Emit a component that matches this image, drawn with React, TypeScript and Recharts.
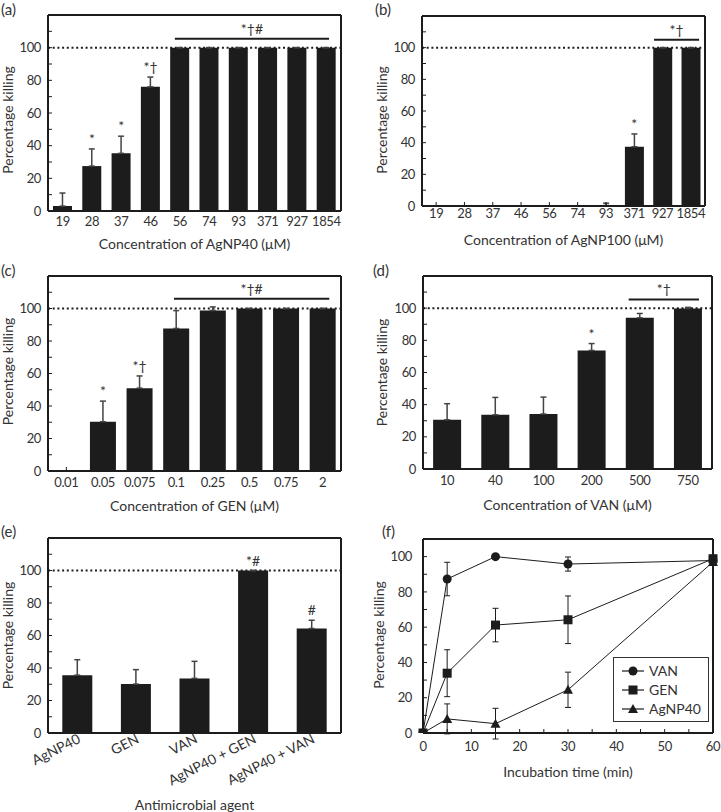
import React from 'react';
import { BarChart, Bar, LineChart, Line, XAxis, YAxis, ErrorBar, ReferenceLine, ReferenceDot, Legend } from 'recharts';

const FONT = "'Lato', sans-serif";
const INK = '#1c1c1c';
const TEXT = '#333';
const FS = 14;
const TICK = { fill: TEXT, fontSize: 13, letterSpacing: '-0.4px' };

// (a) AgNP40
const agnp40Conc = ['19', '28', '37', '46', '56', '74', '93', '371', '927', '1854'];
const agnp40Kill = [3, 27.5, 35.3, 76, 100, 100, 100, 100, 100, 100];
const agnp40Err = [8, 10.5, 10.5, 6, 0, 0, 0, 0, 0, 0];
const agnp40Marks = ['', '*', '*', '*†', '', '', '', '', '', ''];

// (b) AgNP100
const agnp100Conc = ['19', '28', '37', '46', '56', '74', '93', '371', '927', '1854'];
const agnp100Kill = [0, 0, 0, 0, 0, 0, 0.3, 37.4, 100, 100];
const agnp100Err = [0, 0, 0, 0, 0, 0, 1.5, 8.1, 0, 0];
const agnp100Marks = ['', '', '', '', '', '', '', '*', '', ''];

// (c) GEN
const genConc = ['0.01', '0.05', '0.075', '0.1', '0.25', '0.5', '0.75', '2'];
const genKill = [0, 30.3, 51, 87.7, 98.8, 100, 100, 100];
const genErr = [8, 12.7, 7.5, 11, 2.2, 0, 0, 0];
const genMarks = ['', '*', '*†', '', '', '', '', ''];

// (d) VAN
const vanConc = ['10', '40', '100', '200', '500', '750'];
const vanKill = [30.6, 33.7, 34.2, 73.7, 94, 99.8];
const vanErr = [10, 10.8, 10.5, 4.3, 2.7, 0.7];
const vanMarks = ['', '', '', '*', '', ''];

// (e) combinations
const agents = ['AgNP40', 'GEN', 'VAN', 'AgNP40 + GEN', 'AgNP40 + VAN'];
const agentKill = [35.6, 30.1, 33.6, 100, 64.3];
const agentErr = [9.5, 8.9, 10.5, 0, 5.1];
const agentMarks = ['', '', '', '*#', '#'];

// (f) time course
const timeMin = [0, 5, 15, 30, 60];
const vanTime = [0, 87.3, 100, 95.8, 97.8];
const vanTimeErr = [0, 9.5, 0, 4, 2];
const genTime = [0, 33.9, 61.2, 64.2, 98.8];
const genTimeErr = [0, 13.3, 9.5, 13.5, 2];
const agTime = [0, 8, 5.3, 24.5, 97];
const agTimeErr = [0, 8.5, 8.7, 10, 2];
const timeSeries = ['VAN', 'GEN', 'AgNP40'];

const yTicks120 = [0, 10, 20, 30, 40, 50, 60, 70, 80, 90, 100, 110, 120];
const yTicks110 = [0, 10, 20, 30, 40, 50, 60, 70, 80, 90, 100, 110];
const xTicksTime = [0, 5, 10, 15, 20, 25, 30, 35, 40, 45, 50, 55, 60];
const fmtY = (v: number) => (v % 20 === 0 && v <= 100 ? String(v) : '');
const fmtT = (v: number) => (v % 10 === 0 ? String(v) : '');

const frameLine = { stroke: INK, strokeWidth: 2 };

const YTitle = ({ tx, ty }: { tx: number; ty: number }) => (
  <text x={tx} y={ty} transform={`rotate(-90, ${tx}, ${ty})`} textAnchor="middle" dominantBaseline="central" fill={TEXT} fontSize={FS}>
    Percentage killing
  </text>
);

const makeAngledTick = (cats: string[]) => (props: any) => {
  const { x, y, payload } = props;
  return (
    <text x={x} y={y} dy={9} transform={`rotate(-27, ${x}, ${y})`} textAnchor="end" fill={TEXT} fontSize={FS}>
      {cats[payload.value]}
    </text>
  );
};

function BarPanel(p: any) {
  const { box, plot } = p;
  const data = p.cats.map((c: string, i: number) => ({ i, kill: p.kill[i], err: [0, p.err[i]], mark: p.marks[i] }));
  const n = p.cats.length;
  const idx = p.cats.map((_: string, i: number) => i);
  const margin = { top: plot.t - box.y - 1, right: box.x + box.w - plot.r - 1, bottom: 0, left: 0 };
  const titleY = (plot.t + plot.b) / 2 - box.y + p.yTitleDy;
  const AngledTick = makeAngledTick(p.cats);
  return (
    <div style={{ position: 'absolute', left: box.x, top: box.y }}>
      <BarChart width={box.w} height={box.h} data={data} margin={margin} barCategoryGap={p.gap}>
        <XAxis
          dataKey="i"
          type="number"
          domain={[-0.5, n - 0.5]}
          ticks={idx}
          allowDataOverflow
          height={box.y + box.h - plot.b}
          interval={0}
          tickSize={-4}
          tickMargin={p.xTickMargin}
          tickFormatter={(v: number) => p.cats[v]}
          axisLine={frameLine}
          tickLine={{ stroke: INK }}
          tick={p.angled ? AngledTick : TICK}
          label={{ value: p.title, position: 'insideBottom', offset: p.titleOffset, fill: TEXT, fontSize: FS }}
        />
        <XAxis xAxisId="t" orientation="top" type="number" domain={[0, 1]} height={1} tick={false} tickLine={false} axisLine={frameLine} allowDataOverflow />
        <YAxis
          width={plot.l - box.x}
          domain={[0, 120]}
          ticks={yTicks120}
          interval={0}
          tickSize={-4}
          tickMargin={11}
          tickFormatter={fmtY}
          axisLine={frameLine}
          tickLine={{ stroke: INK }}
          tick={TICK}
          label={<YTitle tx={p.yTitleX} ty={titleY} />}
          allowDataOverflow
        />
        <YAxis yAxisId="r" orientation="right" width={1} domain={[0, 120]} tick={false} tickLine={false} axisLine={frameLine} />
        <ReferenceLine y={100} stroke={INK} strokeWidth={2} strokeDasharray="2 2.7" />
        <Bar dataKey="kill" fill={INK} isAnimationActive={false}>
          <ErrorBar dataKey="err" width={3} stroke="#444" strokeWidth={1.5} />
        </Bar>
        {data
          .filter((d: any) => d.mark)
          .map((d: any) => (
            <ReferenceDot
              key={d.i}
              x={d.i}
              y={d.kill + d.err[1]}
              r={0}
              fill="none"
              stroke="none"
              label={{ value: d.mark, position: 'top', offset: 5, fill: TEXT, fontSize: FS }}
            />
          ))}
        {p.sig && (
          <ReferenceLine
            segment={[{ x: p.sig.x1, y: p.sig.y }, { x: p.sig.x2, y: p.sig.y }]}
            stroke={INK}
            strokeWidth={2}
            ifOverflow="visible"
            label={{ value: p.sig.text, position: 'top', offset: 5, fill: TEXT, fontSize: FS }}
          />
        )}
      </BarChart>
    </div>
  );
}

function Marker({ shape, cx, cy }: { shape: string; cx: number; cy: number }) {
  if (shape === 'VAN') return <circle cx={cx} cy={cy} r={4.5} fill={INK} />;
  if (shape === 'GEN') return <rect x={cx - 4.5} y={cy - 4.5} width={9} height={9} fill={INK} />;
  return <polygon points={`${cx},${cy - 5} ${cx + 5},${cy + 4} ${cx - 5},${cy + 4}`} fill={INK} />;
}

const dotFor = (name: string) => (props: any) => <Marker key={`${name}-${props.index}`} shape={name} cx={props.cx} cy={props.cy} />;

const TimeLegend = ({ payload }: any) => {
  const items = [...(payload || [])].sort((a: any, b: any) => timeSeries.indexOf(a.value) - timeSeries.indexOf(b.value));
  return (
    <div style={{ border: '1px solid #333', background: '#fff', padding: '3px 0 0 8px', width: 96, height: 65, boxSizing: 'border-box' }}>
      {items.map((entry: any) => (
        <div key={entry.value} style={{ display: 'flex', alignItems: 'center', height: 19, fontSize: FS, color: TEXT }}>
          <svg width={22} height={12}>
            <line x1={0} y1={6} x2={22} y2={6} stroke={INK} strokeWidth={1.2} />
            <Marker shape={entry.value} cx={11} cy={6} />
          </svg>
          <span style={{ marginLeft: 5 }}>{entry.value}</span>
        </div>
      ))}
    </div>
  );
};

function TimePanel() {
  const box = { x: 360, y: 520, w: 361, h: 262 };
  const plot = { l: 423, t: 539, r: 713, b: 733 };
  const data = timeMin.map((t, i) => ({
    t,
    VAN: vanTime[i],
    vanErr: vanTimeErr[i],
    GEN: genTime[i],
    genErr: genTimeErr[i],
    AgNP40: agTime[i],
    agErr: agTimeErr[i],
  }));
  const margin = { top: plot.t - box.y - 1, right: box.x + box.w - plot.r - 1, bottom: 0, left: 0 };
  return (
    <div style={{ position: 'absolute', left: box.x, top: box.y }}>
      <LineChart width={box.w} height={box.h} data={data} margin={margin}>
        <XAxis
          dataKey="t"
          type="number"
          domain={[0, 60]}
          ticks={xTicksTime}
          interval={0}
          tickFormatter={fmtT}
          height={box.y + box.h - plot.b}
          tickSize={-4}
          tickMargin={13}
          axisLine={frameLine}
          tickLine={{ stroke: INK }}
          tick={TICK}
          label={{ value: 'Incubation time (min)', position: 'insideBottom', offset: 5, fill: TEXT, fontSize: FS }}
        />
        <XAxis xAxisId="t" orientation="top" type="number" domain={[0, 60]} height={1} tick={false} tickLine={false} axisLine={frameLine} />
        <YAxis
          width={plot.l - box.x}
          domain={[0, 110]}
          ticks={yTicks110}
          interval={0}
          tickSize={-4}
          tickMargin={15}
          tickFormatter={fmtY}
          axisLine={frameLine}
          tickLine={{ stroke: INK }}
          tick={TICK}
          label={<YTitle tx={18} ty={(plot.t + plot.b) / 2 - box.y - 1} />}
          allowDataOverflow
        />
        <YAxis yAxisId="r" orientation="right" width={1} domain={[0, 110]} tick={false} tickLine={false} axisLine={frameLine} />
        <Line dataKey="VAN" name="VAN" stroke={INK} strokeWidth={1} dot={dotFor('VAN')} isAnimationActive={false}>
          <ErrorBar dataKey="vanErr" direction="y" width={3} stroke={INK} strokeWidth={1} />
        </Line>
        <Line dataKey="GEN" name="GEN" stroke={INK} strokeWidth={1} dot={dotFor('GEN')} isAnimationActive={false}>
          <ErrorBar dataKey="genErr" direction="y" width={3} stroke={INK} strokeWidth={1} />
        </Line>
        <Line dataKey="AgNP40" name="AgNP40" stroke={INK} strokeWidth={1} dot={dotFor('AgNP40')} isAnimationActive={false}>
          <ErrorBar dataKey="agErr" direction="y" width={3} stroke={INK} strokeWidth={1} />
        </Line>
        <Legend content={<TimeLegend />} verticalAlign="middle" align="center" layout="horizontal" wrapperStyle={{ left: 253, top: 137, width: 96, height: 65 }} />
      </LineChart>
    </div>
  );
}

const panelTag = (text: string, left: number, top: number) => (
  <div key={text} style={{ position: 'absolute', left, top, fontSize: 15, lineHeight: '16px', color: TEXT }}>
    {text}
  </div>
);

export default function App() {
  return (
    <div style={{ position: 'absolute', left: 0, top: 0, width: 721, height: 812, background: '#fff', fontFamily: FONT, overflow: 'hidden' }}>
      {panelTag('(a)', 1, 1)}
      {panelTag('(b)', 375, 1)}
      {panelTag('(c)', 1, 262)}
      {panelTag('(d)', 373, 262)}
      {panelTag('(e)', 1, 523)}
      {panelTag('(f)', 382, 523)}
      <BarPanel
        box={{ x: 0, y: 0, w: 360, h: 254 }}
        plot={{ l: 48, t: 15, r: 341, b: 211 }}
        cats={agnp40Conc}
        kill={agnp40Kill}
        err={agnp40Err}
        marks={agnp40Marks}
        gap="17%"
        sig={{ x1: 3.83, x2: 9.09, y: 105.5, text: '*†#' }}
        title="Concentration of AgNP40 (μM)"
        titleOffset={5}
        xTickMargin={10}
        yTitleX={7}
        yTitleDy={7}
      />
      <BarPanel
        box={{ x: 360, y: 0, w: 361, h: 250 }}
        plot={{ l: 422, t: 16, r: 705, b: 206 }}
        cats={agnp100Conc}
        kill={agnp100Kill}
        err={agnp100Err}
        marks={agnp100Marks}
        gap="17%"
        sig={{ x1: 7.7, x2: 9.29, y: 105, text: '*†' }}
        title="Concentration of AgNP100 (μM)"
        titleOffset={5}
        xTickMargin={7}
        yTitleX={21}
        yTitleDy={9}
      />
      <BarPanel
        box={{ x: 0, y: 262, w: 360, h: 254 }}
        plot={{ l: 48, t: 276, r: 341, b: 471 }}
        cats={genConc}
        kill={genKill}
        err={genErr}
        marks={genMarks}
        gap="14.5%"
        sig={{ x1: 2.94, x2: 7.18, y: 106, text: '*†#' }}
        title="Concentration of GEN (μM)"
        titleOffset={5}
        xTickMargin={11}
        yTitleX={7}
        yTitleDy={-2}
      />
      <BarPanel
        box={{ x: 360, y: 262, w: 361, h: 254 }}
        plot={{ l: 423, t: 276, r: 712, b: 469 }}
        cats={vanConc}
        kill={vanKill}
        err={vanErr}
        marks={vanMarks}
        gap="21%"
        sig={{ x1: 3.77, x2: 5.23, y: 105.4, text: '*†' }}
        title="Concentration of VAN (μM)"
        titleOffset={6}
        xTickMargin={11}
        yTitleX={21}
        yTitleDy={0}
      />
      <BarPanel
        box={{ x: 0, y: 520, w: 360, h: 292 }}
        plot={{ l: 48, t: 538, r: 341, b: 733 }}
        cats={agents}
        kill={agentKill}
        err={agentErr}
        marks={agentMarks}
        gap="24.4%"
        title="Antimicrobial agent"
        titleOffset={2}
        xTickMargin={5}
        angled
        yTitleX={7}
        yTitleDy={0}
      />
      <TimePanel />
    </div>
  );
}
